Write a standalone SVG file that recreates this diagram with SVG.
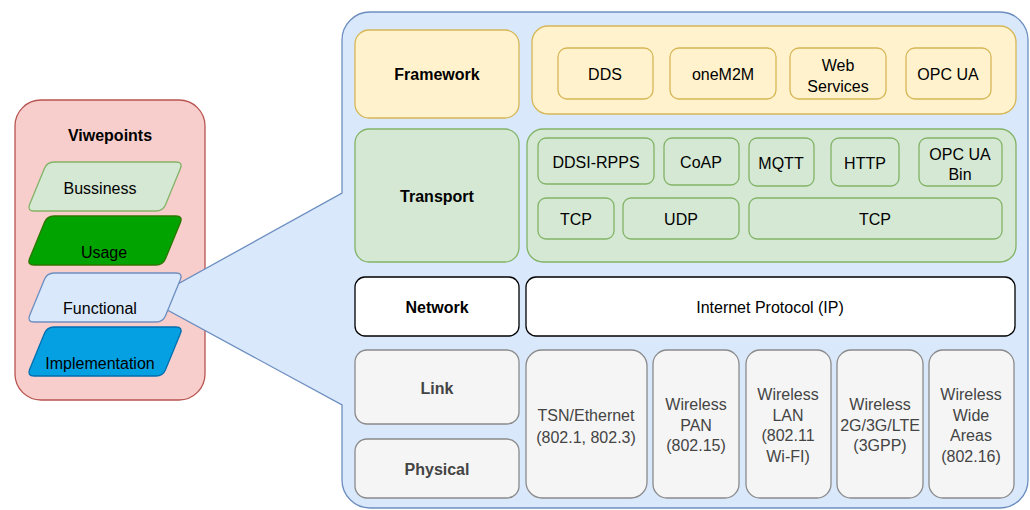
<svg xmlns="http://www.w3.org/2000/svg" width="1030" height="510" viewBox="0 0 1030 510">
<style>
text{font-family:"Liberation Sans",Arial,Helvetica,sans-serif;font-size:16px;text-anchor:middle;fill:#000}
.b{font-weight:bold}
.g{fill:#444}
.yel{fill:#fff2cc;stroke:#d6b656;stroke-width:1.3}
.grn{fill:#d5e8d4;stroke:#82b366;stroke-width:1.3}
.gry{fill:#f5f5f5;stroke:#8a8a8a;stroke-width:1.3}
.wht{fill:#fff;stroke:#000;stroke-width:1.3}
.blu{fill:#dae8fc;stroke:#6c8ebf;stroke-width:1.3}
</style>
<g id="viewpoints">
<rect x="15" y="100" width="190" height="300" rx="26" fill="#f8cecc" stroke="#b85450" stroke-width="1.3"/>
<text class="b" x="110" y="141">Viwepoints</text>
</g>
<g id="connectors">
<path id="functional-callout" class="blu" d="M370,12 L1000,12 A28,28 0 0 1 1028,40 L1028,480 A28,28 0 0 1 1000,508 L370,508 A28,28 0 0 1 342,480 L342,405 L149,300 L342,193 L342,40 A28,28 0 0 1 370,12 Z"/>
</g>
<g id="bussiness">
<path d="M54,162 L176,162 Q183,162 180.4,168.5 L165.6,204.5 Q163,211 156,211 L34,211 Q27,211 29.6,204.5 L44.4,168.5 Q47,162 54,162 Z" fill="#d5e8d4" stroke="#82b366" stroke-width="1.3"/>
<text x="100" y="194">Bussiness</text>
</g>
<g id="usage">
<path d="M54,216 L176,216 Q183,216 180.4,222.5 L165.6,258.5 Q163,265 156,265 L34,265 Q27,265 29.6,258.5 L44.4,222.5 Q47,216 54,216 Z" fill="#00a300" stroke="#2d7600" stroke-width="1.3"/>
<text x="104" y="258">Usage</text>
</g>
<g id="functional">
<path d="M54,273 L176,273 Q183,273 180.4,279.5 L165.6,315.5 Q163,322 156,322 L34,322 Q27,322 29.6,315.5 L44.4,279.5 Q47,273 54,273 Z" class="blu"/>
<text x="100" y="314">Functional</text>
</g>
<g id="implementation">
<path d="M54,327 L176,327 Q183,327 180.4,333.5 L165.6,369.5 Q163,376 156,376 L34,376 Q27,376 29.6,369.5 L44.4,333.5 Q47,327 54,327 Z" fill="#05a0e2" stroke="#006eaf" stroke-width="1.3"/>
<text x="100" y="369">Implementation</text>
</g>

<g id="framework">
<rect class="yel" x="355" y="30" width="164" height="88" rx="14"/>
<text class="b" x="437" y="80">Framework</text>
</g>
<g id="framework-container"><rect class="yel" x="532" y="26" width="484" height="88" rx="16"/></g>
<g id="dds"><rect class="yel" x="558" y="48" width="95" height="51" rx="9"/><text x="605" y="80">DDS</text></g>
<g id="onem2m"><rect class="yel" x="670" y="48" width="106" height="51" rx="9"/><text x="723" y="80">oneM2M</text></g>
<g id="web-services"><rect class="yel" x="790" y="48" width="96" height="51" rx="9"/><text x="838" y="71">Web</text><text x="838" y="92">Services</text></g>
<g id="opc-ua"><rect class="yel" x="906" y="48" width="85" height="51" rx="9"/><text x="948" y="80">OPC UA</text></g>

<g id="transport">
<rect class="grn" x="355" y="129" width="164" height="133" rx="14"/>
<text class="b" x="437" y="202">Transport</text>
</g>
<g id="transport-container"><rect class="grn" x="527" y="129" width="489" height="133" rx="16"/></g>
<g id="ddsi-rpps"><rect class="grn" x="538" y="138" width="116" height="46" rx="8"/><text x="596" y="168">DDSI-RPPS</text></g>
<g id="coap"><rect class="grn" x="664" y="138" width="75" height="47" rx="8"/><text x="701" y="168">CoAP</text></g>
<g id="mqtt"><rect class="grn" x="749" y="138" width="65" height="48" rx="8"/><text x="781" y="169">MQTT</text></g>
<g id="http"><rect class="grn" x="831" y="138" width="68" height="48" rx="8"/><text x="865" y="169">HTTP</text></g>
<g id="opc-ua-bin"><rect class="grn" x="919" y="138" width="83" height="48" rx="8"/><text x="960" y="160">OPC UA</text><text x="960" y="180">Bin</text></g>
<g id="tcp-1"><rect class="grn" x="538" y="198" width="76" height="41" rx="8"/><text x="576" y="225">TCP</text></g>
<g id="udp"><rect class="grn" x="623" y="198" width="116" height="41" rx="8"/><text x="681" y="225">UDP</text></g>
<g id="tcp-2"><rect class="grn" x="749" y="198" width="253" height="41" rx="8"/><text x="875" y="225">TCP</text></g>

<g id="network">
<rect class="wht" x="355" y="277" width="164" height="59" rx="10"/>
<text class="b" x="437" y="313">Network</text>
</g>
<g id="internet-protocol">
<rect class="wht" x="526" y="277" width="489" height="59" rx="10"/>
<text x="770" y="313">Internet Protocol (IP)</text>
</g>

<g id="link">
<rect class="gry" x="355" y="350" width="164" height="74" rx="12"/>
<text class="b g" x="437" y="394">Link</text>
</g>
<g id="physical">
<rect class="gry" x="355" y="439" width="164" height="59" rx="12"/>
<text class="b g" x="437" y="475">Physical</text>
</g>
<g id="tsn-ethernet">
<rect class="gry" x="526" y="350" width="121" height="148" rx="16"/>
<text class="g" x="586" y="421">TSN/Ethernet</text><text class="g" x="586" y="443">(802.1, 802.3)</text>
</g>
<g id="wireless-pan">
<rect class="gry" x="653" y="350" width="86" height="148" rx="14"/>
<text class="g" x="696" y="410">Wireless</text><text class="g" x="696" y="431">PAN</text><text class="g" x="696" y="451">(802.15)</text>
</g>
<g id="wireless-lan">
<rect class="gry" x="746" y="350" width="85" height="148" rx="14"/>
<text class="g" x="788" y="400">Wireless</text><text class="g" x="788" y="421">LAN</text><text class="g" x="788" y="441">(802.11</text><text class="g" x="788" y="462">Wi-FI)</text>
</g>
<g id="wireless-cellular">
<rect class="gry" x="837" y="350" width="86" height="148" rx="14"/>
<text class="g" x="880" y="410">Wireless</text><text class="g" x="880" y="431">2G/3G/LTE</text><text class="g" x="880" y="451">(3GPP)</text>
</g>
<g id="wireless-wide">
<rect class="gry" x="929" y="350" width="85" height="148" rx="14"/>
<text class="g" x="971" y="400">Wireless</text><text class="g" x="971" y="421">Wide</text><text class="g" x="971" y="441">Areas</text><text class="g" x="971" y="462">(802.16)</text>
</g>
</svg>
